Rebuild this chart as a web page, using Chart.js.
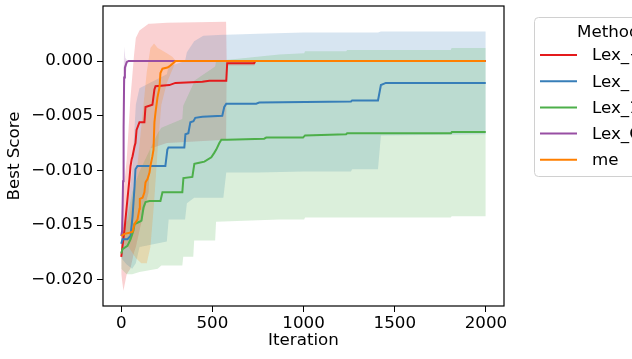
<!DOCTYPE html>
<html>
<head>
<meta charset="utf-8">
<script src="https://cdn.jsdelivr.net/npm/chart.js@4.4.1/dist/chart.umd.min.js"></script>
<style>
  html, body { margin: 0; padding: 0; background: #fff; }
  #wrap { width: 632px; height: 359px; }
</style>
</head>
<body>
<div id="wrap"><canvas id="scoreChart" width="632" height="359"></canvas></div>
<script>
// ---- data ----
const methods = ['Lex_+div', 'Lex_', 'Lex_1', 'Lex_C', 'me'];
const xTicks = [0, 500, 1000, 1500, 2000];
const yTicks = [-0.02, -0.015, -0.01, -0.005, 0];

// Lex_+div (red)
const redIter = [0, 18, 29, 45, 51, 57, 62, 73, 78, 84, 100, 127, 133, 171, 182, 188, 264, 297, 445, 483, 576, 581, 729, 735, 1999];
const redMean = [-0.0179, -0.0154, -0.0135, -0.0108, -0.0096, -0.009, -0.0087, -0.0078, -0.0075, -0.0063, -0.0056, -0.0056, -0.0042, -0.004, -0.0026, -0.0023, -0.0022, -0.002, -0.0019, -0.0018, -0.0018, -0.0002, -0.0002, 0, 0];
const redBandIter = [0, 12, 30, 50, 70, 80, 100, 150, 160, 250, 575, 578, 730, 735, 1999];
const redLow = [-0.0195, -0.021, -0.0195, -0.019, -0.0175, -0.017, -0.0155, -0.012, -0.008, -0.0075, -0.0072, -0.0004, -0.0004, 0, 0];
const redHigh = [-0.0163, -0.012, -0.009, -0.0035, 0.0005, 0.0021, 0.0028, 0.0034, 0.0034, 0.0035, 0.0036, 0, 0, 0, 0];

// Lex_ (blue)
const blueIter = [0, 7, 34, 51, 62, 73, 78, 89, 242, 253, 259, 346, 352, 368, 379, 396, 406, 445, 554, 565, 576, 740, 757, 1260, 1266, 1408, 1424, 1451, 1999];
const blueMean = [-0.0167, -0.0163, -0.0163, -0.016, -0.0142, -0.0115, -0.0099, -0.0096, -0.0096, -0.0081, -0.0079, -0.0079, -0.0067, -0.0066, -0.0056, -0.0055, -0.0052, -0.0051, -0.005, -0.0042, -0.0039, -0.0039, -0.0038, -0.0037, -0.0036, -0.0036, -0.0022, -0.002, -0.002];
const blueBandIter = [0, 30, 60, 80, 100, 250, 260, 350, 360, 400, 450, 560, 576, 750, 1000, 1260, 1266, 1408, 1424, 1999];
const blueLow = [-0.018, -0.0186, -0.019, -0.0185, -0.017, -0.0165, -0.0145, -0.0145, -0.013, -0.0125, -0.0125, -0.0125, -0.0102, -0.0102, -0.0101, -0.0101, -0.0099, -0.0099, -0.0068, -0.0067];
const blueHigh = [-0.0155, -0.014, -0.01, -0.004, -0.0025, -0.0012, -0.0005, 0.0, 0.0008, 0.0018, 0.0023, 0.0024, 0.0024, 0.0025, 0.0026, 0.0026, 0.0026, 0.0026, 0.0027, 0.0027];

// Lex_1 (green)
const greenIter = [0, 7, 34, 51, 67, 73, 100, 111, 122, 133, 155, 215, 226, 335, 341, 390, 401, 428, 456, 494, 510, 521, 538, 549, 581, 784, 795, 997, 1008, 1233, 1239, 1808, 1813, 1999];
const greenMean = [-0.0176, -0.0172, -0.0169, -0.0163, -0.0155, -0.0149, -0.0147, -0.0146, -0.0134, -0.0129, -0.0128, -0.0128, -0.012, -0.012, -0.0107, -0.0106, -0.0094, -0.0093, -0.0092, -0.0088, -0.0084, -0.0081, -0.0075, -0.0072, -0.0072, -0.0071, -0.007, -0.007, -0.0068, -0.0067, -0.0066, -0.0066, -0.0065, -0.0065];
const greenBandIter = [0, 30, 60, 100, 200, 220, 335, 340, 395, 400, 515, 520, 866, 1003, 1008, 1233, 1239, 1807, 1812, 1999];
const greenLow = [-0.019, -0.0195, -0.0195, -0.0193, -0.019, -0.0187, -0.0187, -0.0179, -0.0179, -0.0164, -0.0164, -0.0147, -0.0145, -0.0145, -0.0143, -0.0143, -0.0143, -0.0143, -0.0142, -0.0142];
const greenHigh = [-0.0162, -0.0145, -0.012, -0.0101, -0.0066, -0.0061, -0.0053, -0.0041, -0.0021, -0.0018, -0.0005, 0.0, 0.0006, 0.0007, 0.0009, 0.0009, 0.001, 0.001, 0.0012, 0.0012];

// Lex_C (purple)
const purpleIter = [0, 5, 10, 13, 16, 20, 30, 40, 1999];
const purpleMean = [-0.016, -0.0155, -0.011, -0.006, -0.0015, -0.0006, -0.0001, 0, 0];
const purpleBandIter = [0, 8, 12, 16, 22, 35, 1999];
const purpleLow = [-0.017, -0.018, -0.014, -0.005, -0.0015, 0, 0];
const purpleHigh = [-0.015, -0.012, -0.002, 0.0013, 0.0003, 0, 0];

// me (orange)
const orangeIter = [0, 18, 45, 62, 73, 89, 100, 102, 117, 127, 133, 144, 155, 160, 171, 177, 182, 188, 199, 210, 215, 226, 253, 264, 270, 292, 297, 1999];
const orangeMean = [-0.016, -0.0158, -0.0157, -0.0156, -0.0149, -0.0145, -0.0135, -0.0126, -0.0125, -0.012, -0.0111, -0.0108, -0.0102, -0.0096, -0.0087, -0.0081, -0.0056, -0.0047, -0.0033, -0.0024, -0.0011, -0.0007, -0.0006, -0.0005, -0.0004, -0.0001, 0, 0];
const orangeBandIter = [0, 40, 80, 110, 140, 160, 180, 200, 220, 250, 280, 300, 1999];
const orangeLow = [-0.0165, -0.017, -0.018, -0.0185, -0.0185, -0.017, -0.013, -0.008, -0.004, -0.002, -0.0008, 0, 0];
const orangeHigh = [-0.0155, -0.0145, -0.011, -0.006, -0.001, 0.0012, 0.0016, 0.0012, 0.001, 0.0007, 0.0004, 0, 0];

const colors = ['#e41a1c', '#377eb8', '#4daf4a', '#984ea3', '#ff7f00'];
const series = [
  { iter: redIter, mean: redMean, bIter: redBandIter, low: redLow, high: redHigh },
  { iter: blueIter, mean: blueMean, bIter: blueBandIter, low: blueLow, high: blueHigh },
  { iter: greenIter, mean: greenMean, bIter: greenBandIter, low: greenLow, high: greenHigh },
  { iter: purpleIter, mean: purpleMean, bIter: purpleBandIter, low: purpleLow, high: purpleHigh },
  { iter: orangeIter, mean: orangeMean, bIter: orangeBandIter, low: orangeLow, high: orangeHigh }
];

const FONT = 'DejaVu Sans';
const FS = 16.7;

function pts(xs, ys) {
  return xs.map((x, i) => ({ x: x, y: ys[i] }));
}
function alpha(hex, a) {
  const n = parseInt(hex.slice(1), 16);
  return `rgba(${(n >> 16) & 255}, ${(n >> 8) & 255}, ${n & 255}, ${a})`;
}

// bands first (drawn underneath), then the mean lines
const datasets = [];
series.forEach((s, i) => {
  datasets.push({
    label: methods[i] + ' hi', data: pts(s.bIter, s.high), fill: '+1',
    backgroundColor: alpha(colors[i], 0.2), borderColor: 'transparent',
    borderWidth: 0, pointRadius: 0, order: 20 - i
  });
  datasets.push({
    label: methods[i] + ' lo', data: pts(s.bIter, s.low), fill: false,
    borderColor: 'transparent', borderWidth: 0, pointRadius: 0, order: 20 - i
  });
});
series.forEach((s, i) => {
  datasets.push({
    label: methods[i], data: pts(s.iter, s.mean), fill: false,
    borderColor: colors[i], borderWidth: 2, pointRadius: 0, tension: 0,
    order: 10 - i
  });
});

// frame round the plot area
const framePlugin = {
  id: 'frame',
  afterDraw(chart) {
    const { ctx, chartArea: a } = chart;
    ctx.save();
    ctx.strokeStyle = '#000';
    ctx.lineWidth = 1.2;
    ctx.strokeRect(a.left, a.top, a.right - a.left, a.bottom - a.top);
    ctx.restore();
  }
};

// legend placed like the matplotlib one (spills past the right edge)
const legendPlugin = {
  id: 'sideLegend',
  afterDraw(chart) {
    const ctx = chart.ctx;
    ctx.save();
    ctx.fillStyle = 'rgba(255,255,255,0.8)';
    ctx.strokeStyle = '#d0d0d0';
    ctx.lineWidth = 1;
    ctx.beginPath();
    ctx.roundRect(534.5, 17.5, 140, 159, 4);
    ctx.fill();
    ctx.stroke();
    ctx.font = `${FS}px "${FONT}"`;
    ctx.fillStyle = '#000';
    ctx.textBaseline = 'middle';
    ctx.textAlign = 'left';
    ctx.fillText('Method', 577, 33);
    methods.forEach((m, i) => {
      const y = 55 + i * 26.2;
      ctx.strokeStyle = colors[i];
      ctx.lineWidth = 2;
      ctx.beginPath();
      ctx.moveTo(540, y);
      ctx.lineTo(577, y);
      ctx.stroke();
      ctx.fillStyle = '#000';
      ctx.fillText(m, 592, y + 1);
    });
    ctx.restore();
  }
};

const ctx = document.getElementById('scoreChart').getContext('2d');
const scoreChart = new Chart(ctx, {
  type: 'line',
  data: { datasets: datasets },
  plugins: [framePlugin, legendPlugin],
  options: {
    responsive: false,
    animation: false,
    events: [],
    layout: { padding: { left: 0, top: 6, right: 128, bottom: 0 } },
    plugins: { legend: { display: false }, tooltip: { enabled: false } },
    scales: {
      x: {
        type: 'linear',
        min: -100,
        max: 2099,
        afterBuildTicks: (scale) => { scale.ticks = xTicks.map(v => ({ value: v })); },
        afterFit: (scale) => { scale.height = 53; scale.paddingLeft = 0; scale.paddingRight = 0; },
        grid: { drawOnChartArea: false, drawTicks: true, tickLength: 6, tickColor: '#000', tickWidth: 1 },
        border: { display: false },
        ticks: { color: '#000', padding: 2, maxRotation: 0, font: { family: FONT, size: FS },
          callback: (v) => String(v) },
        title: { display: true, text: 'Iteration', color: '#000', font: { family: FONT, size: FS },
          padding: { top: 0, bottom: 8 } }
      },
      y: {
        type: 'linear',
        min: -0.0224,
        max: 0.00503,
        afterBuildTicks: (scale) => { scale.ticks = yTicks.map(v => ({ value: v })); },
        afterFit: (scale) => { scale.width = 103; scale.paddingTop = 0; scale.paddingBottom = 0; },
        grid: { drawOnChartArea: false, drawTicks: true, tickLength: 6, tickColor: '#000', tickWidth: 1 },
        border: { display: false },
        ticks: { color: '#000', padding: 4, font: { family: FONT, size: FS },
          callback: (v) => (v < 0 ? '\u2212' : '') + Math.abs(v).toFixed(3) },
        title: { display: true, text: 'Best Score', color: '#000', font: { family: FONT, size: FS },
          padding: { top: 5, bottom: 0 } }
      }
    }
  }
});
</script>
</body>
</html>
